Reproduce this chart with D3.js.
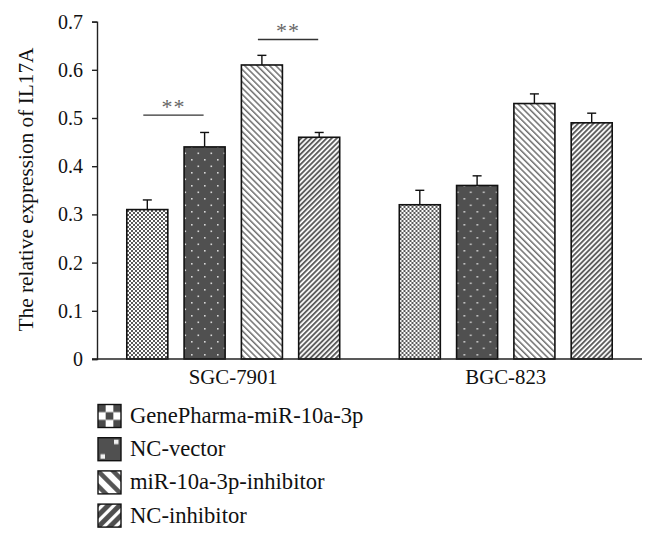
<!DOCTYPE html>
<html>
<head>
<meta charset="utf-8">
<script src="https://cdn.jsdelivr.net/npm/d3@7"></script>
<style>
  html, body { margin: 0; padding: 0; background: #fff; }
  svg { display: block; }
  text { font-family: "Liberation Serif", "Times New Roman", serif; fill: #111; }
</style>
</head>
<body>
<script>
// ---- data ----
const groups = ["SGC-7901", "BGC-823"];
const seriesNames = ["GenePharma-miR-10a-3p", "NC-vector", "miR-10a-3p-inhibitor", "NC-inhibitor"];
const valuesSGC = [0.31, 0.44, 0.61, 0.46];
const errorsSGC = [0.02, 0.03, 0.02, 0.01];
const valuesBGC = [0.32, 0.36, 0.53, 0.49];
const errorsBGC = [0.03, 0.02, 0.02, 0.02];
const yTicks = [0, 0.1, 0.2, 0.3, 0.4, 0.5, 0.6, 0.7];
const sigGroup = ["SGC-7901", "SGC-7901"];
const sigFrom = [0, 2];
const sigTo = [1, 3];
const sigLevel = [0.506, 0.663];
const sigLabel = ["**", "**"];
const yLabel = "The relative expression of IL17A";

const groupValues = [valuesSGC, valuesBGC];
const groupErrors = [errorsSGC, errorsBGC];

const W = 656, H = 541;
const svg = d3.select("body").append("svg").attr("width", W).attr("height", H);

const defs = svg.append("defs");
// ---- bar patterns ----
let p = defs.append("pattern").attr("id", "bar0").attr("patternUnits", "userSpaceOnUse")
  .attr("width", 4).attr("height", 4);
p.append("rect").attr("width", 4).attr("height", 4).attr("fill", "#fff");
p.append("rect").attr("width", 2).attr("height", 2).attr("fill", "#5a5a5a");
p.append("rect").attr("x", 2).attr("y", 2).attr("width", 2).attr("height", 2).attr("fill", "#5a5a5a");

p = defs.append("pattern").attr("id", "bar1").attr("patternUnits", "userSpaceOnUse")
  .attr("width", 13).attr("height", 13);
p.append("rect").attr("width", 13).attr("height", 13).attr("fill", "#505050");
p.append("rect").attr("x", 3).attr("y", 3).attr("width", 1.6).attr("height", 1.6).attr("fill", "#d8d8d8");
p.append("rect").attr("x", 9.5).attr("y", 9.5).attr("width", 1.6).attr("height", 1.6).attr("fill", "#d8d8d8");

p = defs.append("pattern").attr("id", "bar2").attr("patternUnits", "userSpaceOnUse")
  .attr("width", 4.4).attr("height", 10).attr("patternTransform", "rotate(-45)");
p.append("rect").attr("width", 4.4).attr("height", 10).attr("fill", "#fff");
p.append("rect").attr("width", 1.5).attr("height", 10).attr("fill", "#707070");

p = defs.append("pattern").attr("id", "bar3").attr("patternUnits", "userSpaceOnUse")
  .attr("width", 3.6).attr("height", 10).attr("patternTransform", "rotate(45)");
p.append("rect").attr("width", 3.6).attr("height", 10).attr("fill", "#fff");
p.append("rect").attr("width", 1.9).attr("height", 10).attr("fill", "#5e5e5e");

// ---- legend patterns (one tile per box) ----
const LB = 23;
function legTile(id) {
  return defs.append("pattern").attr("id", id).attr("patternUnits", "objectBoundingBox")
    .attr("width", 1).attr("height", 1);
}
p = legTile("leg0");
p.append("rect").attr("width", LB).attr("height", LB).attr("fill", "#fff");
for (let r = 0; r < 3; r++) for (let c = 0; c < 3; c++) if ((r + c) % 2 === 0)
  p.append("rect").attr("x", c * LB / 3).attr("y", r * LB / 3).attr("width", LB / 3).attr("height", LB / 3).attr("fill", "#4a4a4a");
p = legTile("leg1");
p.append("rect").attr("width", LB).attr("height", LB).attr("fill", "#505050");
p.append("rect").attr("x", 16).attr("y", 2).attr("width", 4.5).attr("height", 4.5).attr("fill", "#f0f0f0");
p.append("rect").attr("x", 2.5).attr("y", 16.5).attr("width", 4.5).attr("height", 4.5).attr("fill", "#f0f0f0");
p = legTile("leg2");
p.append("rect").attr("width", LB).attr("height", LB).attr("fill", "#fff");
[-15, 0, 15].forEach(c => p.append("line").attr("x1", c - 5).attr("y1", -5).attr("x2", c + LB + 5).attr("y2", LB + 5)
  .attr("stroke", "#555").attr("stroke-width", 4.5));
p = legTile("leg3");
p.append("rect").attr("width", LB).attr("height", LB).attr("fill", "#fff");
[0, 11.5, 23, 34.5, 46].forEach(c => p.append("line").attr("x1", c + 5).attr("y1", -5).attr("x2", c - LB - 5).attr("y2", LB + 5)
  .attr("stroke", "#4e4e4e").attr("stroke-width", 5));

const mLeft = 97, mRight = 642, mTop = 21.6, mBottom = 359;
const y = d3.scaleLinear().domain([0, 0.7]).range([mBottom, mTop]);
const x0 = d3.scaleBand().domain(groups).range([mLeft, mRight]).padding(0);
const x1 = d3.scaleBand().domain(d3.range(seriesNames.length)).range([0, x0.bandwidth()])
  .paddingInner(0.284).paddingOuter(0.52);

// bars
groups.forEach((g, gi) => {
  const gg = svg.append("g").attr("transform", `translate(${x0(g)},0)`);
  groupValues[gi].forEach((v, i) => {
    const bx = x1(i), bw = x1.bandwidth();
    const cx = bx + bw / 2;
    const et = y(v + groupErrors[gi][i]);
    gg.append("line").attr("x1", cx).attr("x2", cx).attr("y1", y(v)).attr("y2", et)
      .attr("stroke", "#111").attr("stroke-width", 1.4);
    gg.append("line").attr("x1", cx - 4.5).attr("x2", cx + 4.5).attr("y1", et).attr("y2", et)
      .attr("stroke", "#111").attr("stroke-width", 1.4);
    gg.append("rect").attr("x", bx).attr("y", y(v)).attr("width", bw).attr("height", y(0) - y(v))
      .attr("fill", `url(#bar${i})`).attr("stroke", "#111").attr("stroke-width", 1.6);
  });
});

// y axis
const yAxis = d3.axisLeft(y).tickValues(yTicks).tickSize(5).tickPadding(9)
  .tickFormat(d => d === 0 ? "0" : d3.format(".1f")(d));
const ya = svg.append("g").attr("transform", `translate(${mLeft},0)`).call(yAxis);
ya.select(".domain").attr("stroke", "#222").attr("stroke-width", 1.4);
ya.selectAll(".tick line").attr("stroke", "#222").attr("stroke-width", 1.4);
ya.selectAll(".tick text").attr("font-family", "Liberation Serif").attr("font-size", 20).attr("fill", "#111");

// x axis
const xAxis = d3.axisBottom(x0).tickSize(0).tickPadding(10);
const xa = svg.append("g").attr("transform", `translate(0,${mBottom})`).call(xAxis);
xa.select(".domain").attr("d", `M${mLeft - 5},0H${mRight}`).attr("stroke", "#222").attr("stroke-width", 1.4);
xa.selectAll(".tick text").attr("font-family", "Liberation Serif").attr("font-size", 20.8).attr("fill", "#111");

// y label
svg.append("text").attr("transform", `translate(33,${(47 + 332) / 2}) rotate(-90)`)
  .attr("text-anchor", "middle").attr("font-size", 21.3).text(yLabel);

// significance
sigLevel.forEach((lv, k) => {
  const gx = x0(sigGroup[k]);
  const xa1 = gx + x1(sigFrom[k]) + x1.bandwidth() / 2 - 4;
  const xb1 = gx + x1(sigTo[k]) + x1.bandwidth() / 2 - 1;
  svg.append("line").attr("x1", xa1).attr("x2", xb1).attr("y1", y(lv)).attr("y2", y(lv))
    .attr("stroke", "#333").attr("stroke-width", 1.4);
  svg.append("text").attr("x", (xa1 + xb1) / 2).attr("y", y(lv) - 1)
    .attr("text-anchor", "middle").attr("font-size", 22).style("fill", "#666")
    .attr("letter-spacing", 1).text(sigLabel[k]);
});

// legend
const legY0 = 416, legStep = 33.2;
seriesNames.forEach((name, i) => {
  const cy = legY0 + i * legStep;
  svg.append("rect").attr("x", 98).attr("y", cy - LB / 2).attr("width", LB).attr("height", LB)
    .attr("fill", `url(#leg${i})`).attr("stroke", "#111").attr("stroke-width", 1.4);
  svg.append("text").attr("x", 130).attr("y", cy + 7).attr("font-size", 22.6).text(name);
});
</script>
</body>
</html>
